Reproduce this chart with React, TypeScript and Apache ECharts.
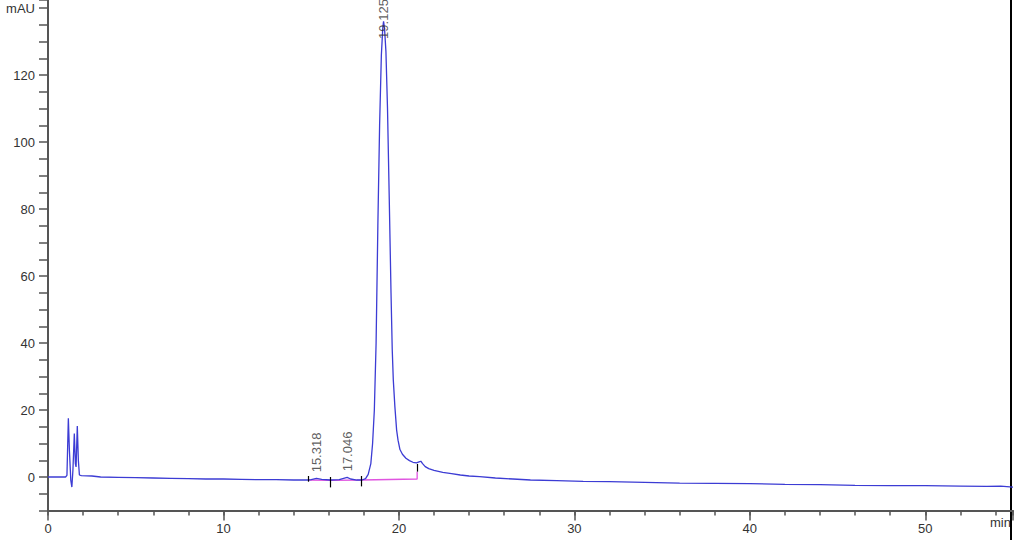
import React, { useEffect, useRef } from "react";
import * as echarts from "echarts";

// Retention time (min) and absorbance (mAU) of the trace
const times = [
  0.0, 0.5, 1.0, 1.08, 1.16, 1.22, 1.3, 1.36, 1.42, 1.5, 1.56, 1.6, 1.67, 1.73, 1.79, 1.9, 2.5,
  3.0, 4.0, 5.0, 6.0, 7.0, 8.0, 9.0, 10, 11, 12, 13, 14, 14.8, 15.0, 15.3, 15.6, 16.1, 16.6,
  16.9, 17.05, 17.25, 17.6, 17.9, 18.1, 18.25, 18.4, 18.5, 18.6, 18.7, 18.8, 18.9, 19.0, 19.08,
  19.125, 19.18, 19.26, 19.35, 19.45, 19.55, 19.62, 19.68, 19.77, 19.87, 19.95, 20.06, 20.2,
  20.4, 20.6, 20.8, 21.0, 21.15, 21.25, 21.35, 21.5, 21.7, 22.0, 22.5, 23.0, 23.5, 24.0, 24.6,
  25.5, 26.5, 27.5, 29, 30.5, 32, 34, 36, 38, 40, 42, 44, 46, 48, 50, 52, 53.5, 54.3, 55,
];
const signal = [
  0.0, 0.0, 0.0, 0.5, 17.5, 8, -1, -3, 2, 13, 4, 3, 15.2, 5, 0.6, 0.4, 0.3,
  0.0, -0.1, -0.2, -0.3, -0.4, -0.5, -0.6, -0.6, -0.7, -0.8, -0.8, -0.9, -0.9, -0.8, -0.4, -0.7, -0.9, -0.8,
  -0.3, -0.1, -0.6, -0.9, -0.9, -0.5, 0.8, 4, 10, 20, 40, 75, 105, 126, 134,
  136, 134, 127, 110, 83, 55, 38, 29, 21, 14, 11, 8.2, 6.8,
  5.6, 4.9, 4.4, 4.2, 4.5, 4.7, 4.0, 3.1, 2.5, 2.0, 1.4, 1.0, 0.6, 0.3, 0.1,
  -0.3, -0.6, -0.9, -1.1, -1.3, -1.4, -1.6, -1.8, -1.9, -2.0, -2.2, -2.3, -2.5, -2.6, -2.6, -2.7, -2.8, -2.7, -3.0,
];

// Integration baseline (pink)
const baselineTimes = [14.83, 16.1, 17.87, 21.04, 21.04];
const baselineValues = [-0.9, -1.0, -0.9, -0.6, 1.6];

// Peak boundary markers: time, top value, bottom value
const boundaryTimes = [14.83, 16.1, 17.87, 21.06];
const boundaryTop = [0.3, 0.0, 0.3, 3.9];
const boundaryBottom = [-1.4, -3.1, -2.8, 1.6];

// Peak labels: retention time label, time, label anchor value
const peakNames = ["15.318", "17.046", "19.125"];
const peakTimes = [15.318, 17.046, 19.125];
const peakLabelY = [-0.4, -0.1, 129];

const FONT = "'Liberation Sans', Arial, sans-serif";

export default function App() {
  const ref = useRef<HTMLDivElement>(null);

  useEffect(() => {
    document.body.style.margin = "0";
    if (!ref.current) return;
    const chart = echarts.init(ref.current, null, { renderer: "svg" });

    const axisColor = "#555";
    const textColor = "#333";

    chart.setOption({
      animation: false,
      backgroundColor: "#ffffff",
      grid: { left: 48, right: 11, top: 0, bottom: 29.5, containLabel: false },
      xAxis: [
        {
          type: "value",
          position: "bottom",
          min: 0,
          max: 55,
          interval: 2,
          axisLine: { show: true, onZero: false, lineStyle: { color: axisColor, width: 2 } },
          axisTick: { show: true, length: 5, lineStyle: { color: axisColor, width: 1.5 } },
          axisLabel: { show: false },
          splitLine: { show: false },
        },
        {
          type: "value",
          position: "bottom",
          min: 0,
          max: 55,
          interval: 10,
          axisLine: { show: false, onZero: false },
          axisTick: { show: true, length: 10, lineStyle: { color: axisColor, width: 1.5 } },
          axisLabel: {
            show: true,
            margin: 11,
            fontSize: 13,
            fontFamily: FONT,
            color: textColor,
            formatter: (v: number) => (v % 10 === 0 ? String(v) : ""),
          },
          splitLine: { show: false },
        },
      ],
      yAxis: {
        type: "value",
        min: -10,
        max: 142.4,
        interval: 5,
        axisLine: { show: true, onZero: false, lineStyle: { color: axisColor, width: 2 } },
        axisTick: { show: true, length: 9, lineStyle: { color: axisColor, width: 1.5 } },
        axisLabel: {
          show: true,
          margin: 13,
          fontSize: 13,
          fontFamily: FONT,
          color: textColor,
          formatter: (v: number) => (v === 140 ? "mAU" : v % 20 === 0 ? String(v) : ""),
        },
        splitLine: { show: false },
      },
      graphic: [
        {
          type: "text",
          left: 990,
          top: 516,
          style: { text: "min", font: `13px ${FONT}`, fill: textColor },
        },
        {
          type: "line",
          shape: { x1: 1011, y1: 0, x2: 1011, y2: 540 },
          style: { stroke: "#000", lineWidth: 2 },
        },
      ],
      series: [
        {
          type: "line",
          name: "baseline",
          xAxisIndex: 0,
          data: baselineTimes.map((t, i) => [t, baselineValues[i]]),
          showSymbol: false,
          lineStyle: { color: "#e055e0", width: 1.3 },
          markLine: {
            silent: true,
            symbol: "none",
            label: { show: false },
            lineStyle: { color: "#000", width: 1.2, type: "solid" },
            data: boundaryTimes.map((t, i) => [
              { coord: [t, boundaryTop[i]] },
              { coord: [t, boundaryBottom[i]] },
            ]),
          },
          z: 2,
        },
        {
          type: "line",
          name: "trace",
          xAxisIndex: 0,
          data: times.map((t, i) => [t, signal[i]]),
          showSymbol: false,
          lineStyle: { color: "#3c3cd4", width: 1.3 },
          z: 3,
        },
        {
          type: "scatter",
          name: "labels",
          xAxisIndex: 0,
          symbolSize: 0,
          itemStyle: { color: "transparent" },
          data: peakTimes.map((t, i) => ({ name: peakNames[i], value: [t, peakLabelY[i]] })),
          label: {
            show: true,
            formatter: "{b}",
            position: "top",
            distance: 6,
            rotate: 90,
            align: "left",
            verticalAlign: "middle",
            fontSize: 13,
            fontFamily: FONT,
            color: textColor,
          },
          z: 4,
        },
      ],
    });

    return () => chart.dispose();
  }, []);

  return <div ref={ref} style={{ width: 1024, height: 540 }} />;
}
